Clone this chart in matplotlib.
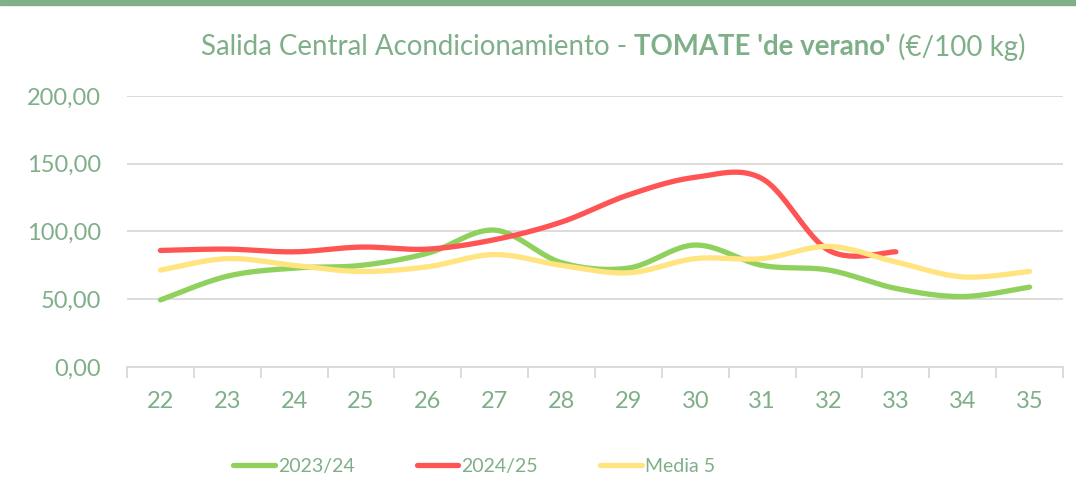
import numpy as np
import matplotlib.pyplot as plt

plt.rcParams["font.family"] = ["Lato", "DejaVu Sans"]

weeks = [22, 23, 24, 25, 26, 27, 28, 29, 30, 31, 32, 33, 34, 35]
s2324 = [49.5, 67, 73, 75, 84, 101, 77, 73, 90, 75, 71.5, 58, 52, 59]
s2425 = [86, 87, 85, 88.5, 87, 94, 107, 127, 140, 139, 86, 85]
media5 = [71.5, 80, 75, 70.5, 74, 83, 75, 69.5, 80, 80, 89, 77.5, 66.5, 70.5]

txt = "#7FAF88"
grid = "#D9D9D9"


def smooth(x, y, n=30):
    # catmull-rom style smoothing like the excel "smoothed line"
    x = np.asarray(x, float)
    y = np.asarray(y, float)
    px = np.concatenate([[x[0]], x, [x[-1]]])
    py = np.concatenate([[y[0]], y, [y[-1]]])
    ox, oy = [], []
    for i in range(1, len(px) - 2):
        p0 = np.array([px[i - 1], py[i - 1]])
        p1 = np.array([px[i], py[i]])
        p2 = np.array([px[i + 1], py[i + 1]])
        p3 = np.array([px[i + 2], py[i + 2]])
        c1 = p1 + (p2 - p0) / 6
        c2 = p2 - (p3 - p1) / 6
        t = np.linspace(0, 1, n)[:, None]
        b = (1 - t) ** 3 * p1 + 3 * (1 - t) ** 2 * t * c1 + 3 * (1 - t) * t ** 2 * c2 + t ** 3 * p2
        ox.extend(b[:, 0])
        oy.extend(b[:, 1])
    return np.array(ox), np.array(oy)


fig = plt.figure(figsize=(10.76, 4.9), dpi=100)
ax = fig.add_axes([127 / 1076, 1 - 367 / 490, (1063 - 127) / 1076, (367 - 96) / 490])

idx = np.arange(len(weeks))
series = [(s2324, "#8FD15C", "2023/24"), (s2425, "#FF5454", "2024/25"), (media5, "#FFE47F", "Media 5")]
for vals, col, lab in series:
    xs, ys = smooth(idx[:len(vals)], vals)
    ax.plot(xs, ys, color=col, lw=3.8, solid_capstyle="round", label=lab, zorder=3)

ax.set_xlim(-0.5, len(weeks) - 0.5)
ax.set_ylim(0, 200)
ax.set_yticks([0, 50, 100, 150, 200])
ax.set_yticklabels(["0,00", "50,00", "100,00", "150,00", "200,00"])
ax.set_xticks(idx)
ax.set_xticklabels([str(w) for w in weeks])
ax.set_xticks(np.arange(-0.5, len(weeks)), minor=True)
ax.grid(axis="y", color=grid, lw=1.3)
ax.set_axisbelow(True)
for s in ["top", "right", "left"]:
    ax.spines[s].set_visible(False)
ax.spines["bottom"].set_color(grid)
ax.spines["bottom"].set_linewidth(1.3)
ax.tick_params(axis="y", length=0, pad=18.5, labelsize=17, labelcolor=txt)
ax.tick_params(axis="x", which="major", length=0, pad=17, labelsize=17, labelcolor=txt)
ax.tick_params(axis="x", which="minor", length=8, width=1.3, color=grid)

# title in three pieces: normal, bold, normal
parts = [("Salida Central Acondicionamiento - ", "normal"),
         ("TOMATE 'de verano'", "bold"),
         (" (€/100 kg)", "normal")]
fig.canvas.draw()
r = fig.canvas.get_renderer()
x0 = 201
ty = 1 - 47 / 490
for s, w in parts:
    t = fig.text(x0 / 1076, ty, s, ha="left", va="center", fontsize=19.9, color=txt, fontweight=w)
    x0 = t.get_window_extent(r).x1

leg = fig.legend(loc="center", bbox_to_anchor=(474 / 1076, 1 - 466 / 490), ncol=3, frameon=False,
                 fontsize=14, handlelength=2.15, handletextpad=0.15, columnspacing=3.2)
for t in leg.get_texts():
    t.set_color(txt)

fig.add_artist(plt.Rectangle((0, 1 - 5 / 490), 1, 5 / 490, transform=fig.transFigure, color="#80B08A"))

fig.savefig("out.png", dpi=100)
